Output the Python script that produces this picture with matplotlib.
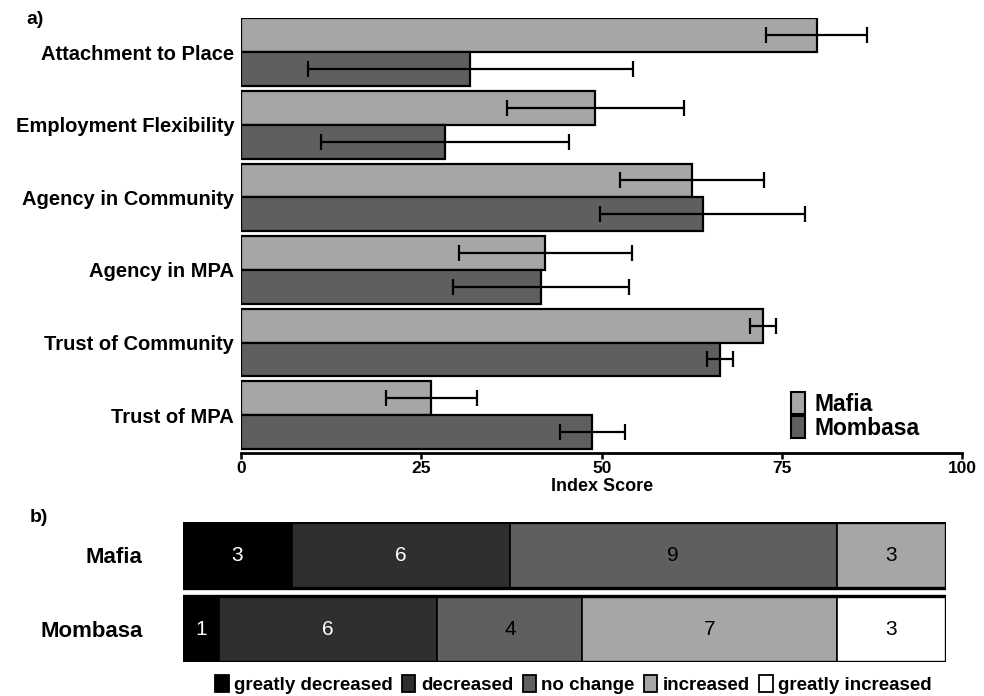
import matplotlib.pyplot as plt
import numpy as np
from matplotlib import font_manager
from matplotlib.patches import Patch

# --- data -----------------------------------------------------------------
categories = ['Attachment to Place', 'Employment Flexibility', 'Agency in Community',
              'Agency in MPA', 'Trust of Community', 'Trust of MPA']
mafia_mean = [79.8, 49.1, 62.5, 42.2, 72.4, 26.4]
mafia_err = [7.0, 12.3, 10.0, 12.0, 1.8, 6.3]
mombasa_mean = [31.8, 28.3, 64.0, 41.6, 66.4, 48.7]
mombasa_err = [22.5, 17.2, 14.2, 12.2, 1.8, 4.5]

sites = ['Mafia', 'Mombasa']
change_levels = ['greatly decreased', 'decreased', 'no change', 'increased', 'greatly increased']
change_counts = {
    'Mafia': [3, 6, 9, 3, 0],
    'Mombasa': [1, 6, 4, 7, 3],
}

# --- style ----------------------------------------------------------------
names = {f.name for f in font_manager.fontManager.ttflist}
NARROW = 'Liberation Sans Narrow' if 'Liberation Sans Narrow' in names else 'Liberation Sans'
WIDE = 'Liberation Sans'

C_MAFIA = '#a6a6a6'
C_MOMB = '#5f5f5f'
change_colors = ['#000000', '#2f2f2f', '#5f5f5f', '#a6a6a6', '#ffffff']
text_colors = ['white', 'white', 'black', 'black', 'black']

fig = plt.figure(figsize=(9.84, 6.96), dpi=100)

# --- panel a --------------------------------------------------------------
ax1 = fig.add_axes([0.245, 0.349, 0.733, 0.625])
ypos = np.arange(len(categories))[::-1]
h = 0.466
ax1.barh(ypos + h / 2, mafia_mean, height=h, color=C_MAFIA, edgecolor='black', linewidth=1.6)
ax1.barh(ypos - h / 2, mombasa_mean, height=h, color=C_MOMB, edgecolor='black', linewidth=1.6)
ax1.errorbar(mafia_mean, ypos + h / 2, xerr=mafia_err, fmt='none', ecolor='black',
             elinewidth=1.6, capsize=5.5, capthick=1.6)
ax1.errorbar(mombasa_mean, ypos - h / 2, xerr=mombasa_err, fmt='none', ecolor='black',
             elinewidth=1.6, capsize=5.5, capthick=1.6)

ax1.set_xlim(0, 100)
ax1.set_ylim(-0.523, 5.47)
ax1.set_yticks(ypos)
ax1.set_yticklabels(categories, fontsize=14.5, fontweight='bold', family=WIDE)
ax1.tick_params(axis='y', length=0, pad=5)
ax1.set_xticks([0, 25, 50, 75, 100])
ax1.set_xticklabels(['0', '25', '50', '75', '100'], fontsize=12.5, fontweight='bold', family=NARROW)
ax1.tick_params(axis='x', width=1.8, length=4, pad=2)
for s in ['top', 'right', 'left']:
    ax1.spines[s].set_visible(False)
ax1.spines['bottom'].set_linewidth(2)
ax1.set_xlabel('Index Score', fontsize=13, fontweight='bold', family=NARROW, labelpad=1)

leg1 = ax1.legend(handles=[Patch(facecolor=C_MAFIA, edgecolor='black', linewidth=1.5, label='Mafia'),
                           Patch(facecolor=C_MOMB, edgecolor='black', linewidth=1.5, label='Mombasa')],
                  loc='lower left', bbox_to_anchor=(0.75, 0.01), frameon=False,
                  prop={'family': NARROW, 'weight': 'bold', 'size': 16.5},
                  handlelength=0.6, handleheight=1.1, handletextpad=0.4, labelspacing=0.0,
                  borderaxespad=0)

fig.text(0.027, 0.972, 'a)', fontsize=14, fontweight='bold', family=WIDE, va='center')

# --- panel b --------------------------------------------------------------
ax2 = fig.add_axes([0.186, 0.0489, 0.775, 0.201])
bpos = [1, 0]
bh = 0.89
for site, y in zip(sites, bpos):
    counts = change_counts[site]
    left = 0
    for lvl, (n, col, tc) in enumerate(zip(counts, change_colors, text_colors)):
        if n == 0:
            continue
        ax2.barh(y, n, left=left, height=bh, color=col, edgecolor='black', linewidth=1.2)
        ax2.text(left + n / 2, y, str(n), ha='center', va='center', color=tc,
                 fontsize=15, family=NARROW)
        left += n
    ax2.barh(y, sum(counts), height=bh, fill=False, edgecolor='black', linewidth=2.4)

ax2.set_xlim(0, 21)
ax2.set_ylim(-0.445, 1.445)
ax2.set_yticks(bpos)
ax2.set_yticklabels(sites, fontsize=16, fontweight='bold', family=WIDE)
ax2.tick_params(axis='y', length=0, pad=29)
ax2.set_xticks([])
for s in ax2.spines.values():
    s.set_visible(False)

fig.text(0.03, 0.257, 'b)', fontsize=14, fontweight='bold', family=WIDE, va='center')

handles = [Patch(facecolor=c, edgecolor='black', linewidth=1.3, label=l)
           for c, l in zip(change_colors, change_levels)]
fig.legend(handles=handles, loc='center', bbox_to_anchor=(0.583, 0.017), ncol=5, frameon=False,
           prop={'family': NARROW, 'weight': 'bold', 'size': 13.5},
           handlelength=0.7, handleheight=1.0, handletextpad=0.3, columnspacing=0.5,
           borderaxespad=0, borderpad=0)

fig.savefig('out.png', dpi=100)
